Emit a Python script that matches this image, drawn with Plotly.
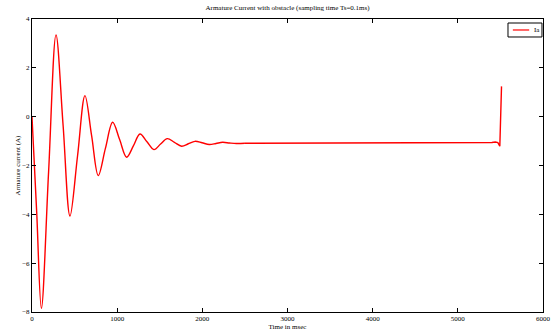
import plotly.graph_objects as go

# Oscillating part
osc_t = [0, 55, 110, 195, 282, 365, 446, 535, 622, 700, 778, 862, 947, 1030, 1111,
         1190, 1268, 1350, 1432, 1510, 1588, 1672, 1757, 1835, 1913, 1997, 2081,
         2160, 2238, 2320, 2400, 2500]
osc_i = [0, -3.9, -7.85, -2.25, 3.35, -0.35, -4.07, -1.6, 0.86, -0.78, -2.41, -1.3,
         -0.23, -0.95, -1.66, -1.2, -0.71, -1.03, -1.35, -1.12, -0.90, -1.05, -1.21,
         -1.11, -1.01, -1.07, -1.14, -1.10, -1.05, -1.08, -1.10, -1.09]
# Flat part and the final spike
tail_t = [2500, 3750, 3760, 5400, 5440, 5470, 5493, 5500, 5513]
tail_i = [-1.09, -1.09, -1.06, -1.06, -1.04, -1.06, -1.21, -0.3, 1.24]

x_ticks = [0, 1000, 2000, 3000, 4000, 5000, 6000]
y_ticks = [-8, -6, -4, -2, 0, 2, 4]
legend_label = "Ia"

font = "Liberation Serif, Times New Roman, serif"
RED = "red"

fig = go.Figure()
fig.add_trace(go.Scatter(x=osc_t, y=osc_i, mode="lines", name=legend_label,
                         line=dict(color=RED, width=1.4, shape="spline", smoothing=1)))
fig.add_trace(go.Scatter(x=tail_t, y=tail_i, mode="lines", name=legend_label,
                         line=dict(color=RED, width=1.4)))

axis_common = dict(showgrid=False, zeroline=False, showline=True, linecolor="black",
                   linewidth=1, mirror="ticks", ticks="inside", ticklen=4,
                   tickcolor="black", automargin=False,
                   tickfont=dict(family=font, size=7, color="black"))

fig.update_layout(
    width=553, height=333,
    margin=dict(l=32, r=10, t=19, b=21, autoexpand=False),
    paper_bgcolor="white", plot_bgcolor="white",
    showlegend=False,
    title=dict(text="Armature Current with obstacle (sampling time Ts=0.1ms)",
               x=0.52, xanchor="center", y=0.985, yanchor="top",
               font=dict(family=font, size=7, color="black")),
    xaxis=dict(range=[0, 6000], tickvals=x_ticks,
               title=dict(text="Time in msec", standoff=0,
                          font=dict(family=font, size=7, color="black")),
               **axis_common),
    yaxis=dict(range=[-8, 4], tickvals=y_ticks,
               title=dict(text="Armature current (A)", standoff=0,
                          font=dict(family=font, size=7, color="black")),
               **axis_common),
)

# Legend box in the top-right corner (MATLAB style)
fig.add_shape(type="rect", xref="paper", yref="paper",
              x0=0.9315, x1=0.998, y0=0.9386, y1=0.9863,
              line=dict(color="black", width=1), fillcolor="white")
fig.add_shape(type="line", xref="paper", yref="paper",
              x0=0.941, x1=0.973, y0=0.9625, y1=0.9625,
              line=dict(color=RED, width=1.2))
fig.add_annotation(text=legend_label, xref="paper", yref="paper",
                   x=0.978, y=0.9625, xanchor="left", yanchor="middle",
                   showarrow=False, font=dict(family=font, size=7, color="black"))

fig.write_html("out.html",
               config={"displayModeBar": False},
               post_script="document.body.style.margin='0';"
                           "document.body.style.overflow='hidden';")
